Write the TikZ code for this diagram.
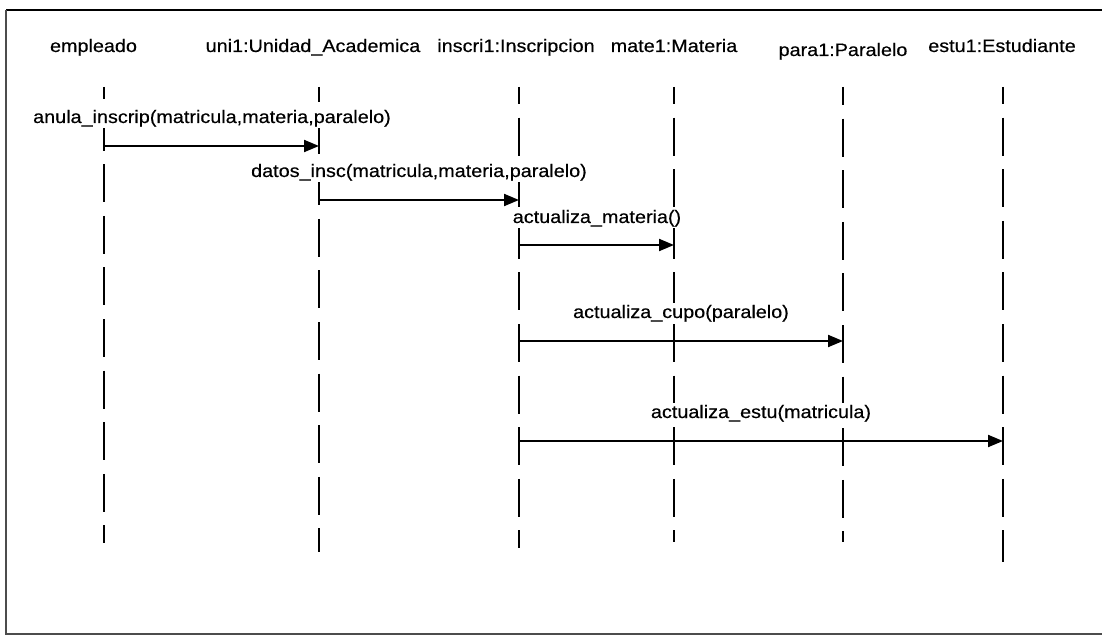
\documentclass[tikz,border=0pt]{standalone}
\usepackage{fontspec}
\setmainfont[FakeStretch=1.1,FakeBold=0.4]{Liberation Sans}
\usetikzlibrary{arrows.meta}
\newcommand\dgfont{\fontsize{18}{20}\selectfont}
\begin{document}
\begin{tikzpicture}[x=1pt,y=-1pt,
  every node/.style={font=\dgfont},
  lifeline/.style={line width=2pt, dash pattern=on 38pt off 13.6pt},
  msg/.style={line width=2pt, -{Triangle[length=15pt,width=12pt]}},
  head/.style={anchor=base, inner sep=0pt},
  lbl/.style={anchor=base, fill=white, inner sep=1.5pt}]
\useasboundingbox (0,0) rectangle (1102,636);

% frame
\draw[line width=2.2pt] (1102,10) -- (6,10);
\draw[line width=1.6pt, black!70] (6,10) -- (6,634) -- (1102,634);

% object headings
\node[head] (hEmp)  at (93.5,52) {empleado};
\node[head] (hUni)  at (313,52)  {uni1:Unidad\_Academica};
\node[head] (hIns)  at (516,52)  {inscri1:Inscripcion};
\node[head] (hMat)  at (674,52)  {mate1:Materia};
\node[head] (hPar)  at (843,56)  {para1:Paralelo};
\node[head] (hEst)  at (1002,52) {estu1:Estudiante};

% lifeline ends
\coordinate (Lemp) at (104,87);  \coordinate (Eemp) at (104,543);
\coordinate (Luni) at (319,87);  \coordinate (Euni) at (319,552);
\coordinate (Lins) at (519,87);  \coordinate (Eins) at (519,548);
\coordinate (Lmat) at (674,87);  \coordinate (Emat) at (674,542);
\coordinate (Lpar) at (843,87);  \coordinate (Epar) at (843,542);
\coordinate (Lest) at (1003,87); \coordinate (Eest) at (1003,562);

\draw[lifeline, dash phase=26pt] (Lemp) -- (Eemp);
\draw[lifeline, dash phase=23pt] (Luni) -- (Euni);
\draw[lifeline, dash phase=21pt] (Lins) -- (Eins);
\draw[lifeline, dash phase=21pt] (Lmat) -- (Emat);
\draw[lifeline, dash phase=20pt] (Lpar) -- (Epar);
\draw[lifeline, dash phase=21pt] (Lest) -- (Eest);

% message rows
\coordinate (y1) at (0,146);
\coordinate (y2) at (0,200);
\coordinate (y3) at (0,245);
\coordinate (y4) at (0,341);
\coordinate (y5) at (0,441);

\draw[msg] (Lemp |- y1) -- (Luni |- y1);
\draw[msg] (Luni |- y2) -- (Lins |- y2);
\draw[msg] (Lins |- y3) -- (Lmat |- y3);
\draw[msg] (Lins |- y4) -- (Lpar |- y4);
\draw[msg] (Lins |- y5) -- (Lest |- y5);

% message labels
\node[lbl] (t1) at (212,123) {anula\_inscrip(matricula,materia,paralelo)};
\node[lbl] (t2) at (419,177) {datos\_insc(matricula,materia,paralelo)};
\node[lbl] (t3) at (597,223) {actualiza\_materia()};
\node[lbl] (t4) at (681,318) {actualiza\_cupo(paralelo)};
\node[lbl] (t5) at (761,418) {actualiza\_estu(matricula)};
\end{tikzpicture}
\end{document}
